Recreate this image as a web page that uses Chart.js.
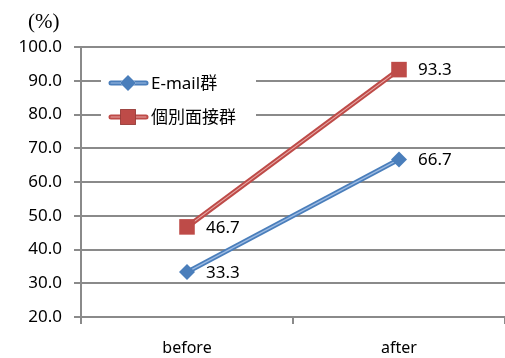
<!DOCTYPE html>
<html>
<head>
<meta charset="utf-8">
<script src="https://cdn.jsdelivr.net/npm/chart.js@4/dist/chart.umd.min.js"></script>
<style>
  html, body { margin: 0; padding: 0; background: #fff; }
  #wrap { width: 505px; height: 358px; }
</style>
</head>
<body>
<div id="wrap"><canvas id="lineChart" width="505" height="358"></canvas></div>
<script>
// chart data
const categories = ['before', 'after'];
const emailValues = [33.3, 66.7];
const interviewValues = [46.7, 93.3];
const seriesNames = ['E-mail群', '個別面接群'];
const yMin = 20;
const yMax = 100;
const yStep = 10;

const FONT = '"Noto Sans", "Noto Sans CJK JP", sans-serif';
const GRID = '#8a8a8a';

// series styles
const styles = [
    { outer: '#4a7ebb', inner: '#9dbbe3', point: 'rectRot', radius: 8 },
    { outer: '#be4b48', inner: '#e8a9a7', point: 'rect', radius: 11 }
];
const seriesValues = [emailValues, interviewValues];

// each series = thick outer line + thin light line with the markers on top
const datasets = [];
seriesValues.forEach((values, i) => {
    const s = styles[i];
    datasets.push({
        label: seriesNames[i],
        data: values,
        borderColor: s.outer,
        borderWidth: 5,
        pointRadius: 0,
        order: 10 - i * 2
    });
    datasets.push({
        label: seriesNames[i] + '_inner',
        data: values,
        borderColor: s.inner,
        borderWidth: 1.2,
        pointStyle: s.point,
        pointRadius: s.radius,
        pointBackgroundColor: s.outer,
        pointBorderColor: s.outer,
        pointBorderWidth: 0,
        order: 9 - i * 2,
        isInner: true
    });
});

// value labels to the right of each point
const valueLabels = {
    id: 'valueLabels',
    afterDatasetsDraw(chart) {
        const ctx = chart.ctx;
        ctx.save();
        ctx.font = '17px ' + FONT;
        ctx.fillStyle = '#000';
        ctx.textAlign = 'left';
        ctx.textBaseline = 'middle';
        chart.data.datasets.forEach((ds, i) => {
            if (!ds.isInner) return;
            chart.getDatasetMeta(i).data.forEach((pt, j) => {
                ctx.fillText(ds.data[j].toFixed(1), pt.x + 19, pt.y + 1);
            });
        });
        ctx.restore();
    }
};

// unit label and in-plot legend
const extras = {
    id: 'extras',
    afterDraw(chart) {
        const ctx = chart.ctx;
        ctx.save();
        ctx.font = '21px "Liberation Serif", serif';
        ctx.fillStyle = '#000';
        ctx.textAlign = 'left';
        ctx.textBaseline = 'middle';
        ctx.fillText('(%)', 28, 22);

        // legend box
        ctx.fillStyle = '#fff';
        ctx.fillRect(101, 68, 155, 62);
        seriesNames.forEach((name, i) => {
            const s = styles[i];
            const y = 83 + i * 34;
            ctx.lineCap = 'round';
            ctx.strokeStyle = s.outer;
            ctx.lineWidth = 5;
            ctx.beginPath(); ctx.moveTo(111, y); ctx.lineTo(146, y); ctx.stroke();
            ctx.strokeStyle = s.inner;
            ctx.lineWidth = 1.2;
            ctx.beginPath(); ctx.moveTo(111, y); ctx.lineTo(146, y); ctx.stroke();
            Chart.helpers.drawPoint(ctx, {
                pointStyle: s.point, radius: s.radius, borderWidth: 0
            }, 128, y);
            ctx.fillStyle = s.outer;
            ctx.fill();
            ctx.fillStyle = '#000';
            ctx.font = '17px ' + FONT;
            ctx.fillText(name, 151, y + 1);
        });
        ctx.restore();
    }
};

new Chart(document.getElementById('lineChart'), {
    type: 'line',
    data: { labels: categories, datasets: datasets },
    options: {
        responsive: false,
        animation: false,
        layout: { autoPadding: false, padding: { top: 47, right: -2, bottom: 0, left: 0 } },
        plugins: {
            legend: { display: false },
            tooltip: { enabled: false }
        },
        scales: {
            x: {
                offset: true,
                afterFit(scale) { scale.height = 41; },
                border: { color: GRID, width: 2 },
                grid: {
                    offset: true,
                    drawOnChartArea: false,
                    drawTicks: true,
                    tickLength: 7,
                    color: GRID,
                    lineWidth: 2
                },
                ticks: {
                    color: '#000',
                    padding: 15,
                    font: { family: FONT, size: 16 }
                }
            },
            y: {
                min: yMin,
                max: yMax,
                afterFit(scale) { scale.width = 81; },
                border: { color: GRID, width: 2 },
                grid: {
                    color: GRID,
                    lineWidth: 2,
                    tickLength: 7
                },
                ticks: {
                    stepSize: yStep,
                    color: '#000',
                    padding: 12,
                    font: { family: FONT, size: 17 },
                    callback: v => Number(v).toFixed(1)
                }
            }
        }
    },
    plugins: [valueLabels, extras]
});
</script>
</body>
</html>
